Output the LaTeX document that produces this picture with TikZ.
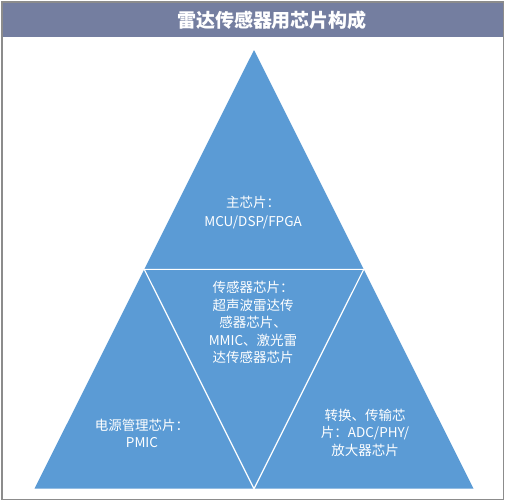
\documentclass[tikz,border=0pt]{standalone}
\usepackage{fontspec}
\usetikzlibrary{calc}
\newfontfamily\cjk{Noto Sans CJK SC}
\definecolor{barcol}{RGB}{116,126,160}
\definecolor{tricol}{RGB}{91,155,213}
\definecolor{framecol}{RGB}{140,140,140}
\begin{document}
\begin{tikzpicture}[x=1pt,y=-1pt,
  lbl/.style={text=white,align=center,font=\cjk\fontsize{13.5}{17.5}\selectfont,inner sep=0pt},
  ttl/.style={text=white,font=\cjk\bfseries\fontsize{19}{22}\selectfont,inner sep=0pt},
  divline/.style={draw=white,line width=1.2pt}]
\useasboundingbox (0,0) rectangle (507,504);
\fill[white] (0,0) rectangle (507,504);
% frame and title bar
\fill[barcol] (2,2) rectangle (503.5,37);
\draw[framecol,line width=1.3pt] (2,2) rectangle (503.5,499.5);
\node[ttl] (title) at (272,20) {雷达传感器用芯片构成};
% triangle
\coordinate (apex) at (254,50);
\coordinate (bl) at (34.5,488.7);
\coordinate (br) at (473.5,488.7);
\coordinate (ml) at ($(apex)!0.5!(bl)$);
\coordinate (mr) at ($(apex)!0.5!(br)$);
\coordinate (mb) at ($(bl)!0.5!(br)$);
\fill[tricol] (apex) -- (bl) -- (br) -- cycle;
\draw[divline] (ml) -- (mr) -- (mb) -- cycle;
% labels
\node[lbl,font=\cjk\fontsize{13.5}{18.7}\selectfont] (top) at (253,212.5) {主芯片：\\MCU/DSP/FPGA};
\node[lbl] (mid) at (253,322.5) {传感器芯片：\\超声波雷达传\\感器芯片、\\MMIC、激光雷\\达传感器芯片};
\node[lbl,font=\cjk\fontsize{13.5}{16.7}\selectfont] (left) at (142,433.5) {电源管理芯片：\\PMIC};
\node[lbl] (right) at (365,432.5) {转换、传输芯\\片：ADC/PHY/\\放大器芯片};
\end{tikzpicture}
\end{document}
